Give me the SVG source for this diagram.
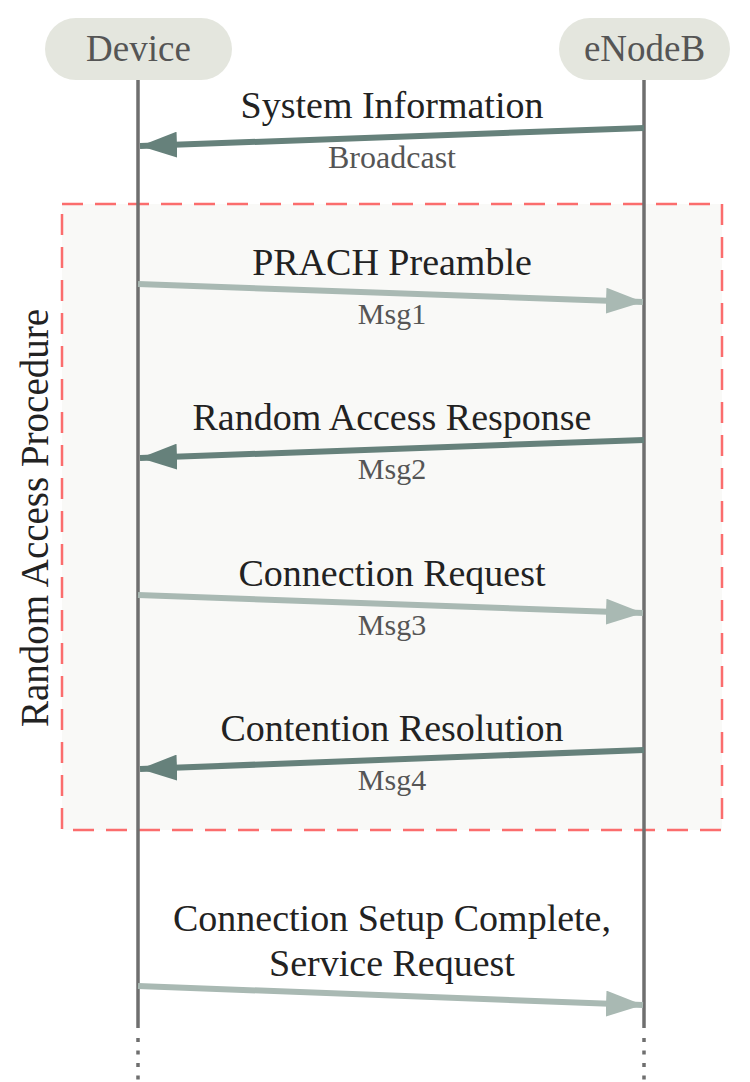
<svg xmlns="http://www.w3.org/2000/svg" width="750" height="1082" viewBox="0 0 750 1082">
<style>
.node{fill:#e4e6de}
.ntext{font-family:"Liberation Serif",serif;font-size:37px;fill:#555;text-anchor:middle}
.life{stroke:#6f6f6f;stroke-width:3.5;fill:none}
.dots{stroke:#6f6f6f;stroke-width:3.5;fill:none;stroke-dasharray:4 8.5}
.lbl{font-family:"Liberation Serif",serif;font-size:38px;fill:#222;text-anchor:middle}
.sub{font-family:"Liberation Serif",serif;font-size:30px;fill:#555;text-anchor:middle}
.dark{stroke:#66817b;stroke-width:6;fill:none;marker-end:url(#hd)}
.light{stroke:#a9b9b3;stroke-width:6;fill:none;marker-end:url(#hl)}
</style>
<defs>
<marker id="hd" markerUnits="userSpaceOnUse" viewBox="0 0 37 26" refX="37" refY="13" markerWidth="37" markerHeight="26" orient="auto"><path d="M0,0 L37,13 L0,26 z" fill="#66817b"/></marker>
<marker id="hl" markerUnits="userSpaceOnUse" viewBox="0 0 37 26" refX="37" refY="13" markerWidth="37" markerHeight="26" orient="auto"><path d="M0,0 L37,13 L0,26 z" fill="#a9b9b3"/></marker>
</defs>
<rect width="750" height="1082" fill="#fff"/>
<g id="group-rap">
<rect x="62" y="204" width="660" height="626" fill="#f9f9f7" stroke="#fb6d6d" stroke-width="2.5" stroke-dasharray="21 12"/>
<text class="lbl" transform="translate(48,518) rotate(-90)" style="font-size:39px">Random Access Procedure</text>
</g>
<g id="device">
<rect class="node" x="45" y="18" width="187" height="62" rx="31"/>
<text class="ntext" x="138.5" y="61">Device</text>
</g>
<g id="enodeb">
<rect class="node" x="559" y="18" width="171" height="62" rx="31"/>
<text class="ntext" x="644.5" y="61">eNodeB</text>
</g>
<g id="lifelines">
<line class="life" x1="138" y1="80" x2="138" y2="1028"/>
<line class="life" x1="644" y1="80" x2="644" y2="1028"/>
<line class="dots" x1="138" y1="1038" x2="138" y2="1082"/>
<line class="dots" x1="644" y1="1038" x2="644" y2="1082"/>
</g>
<g id="connectors">
<line class="dark" x1="644" y1="128" x2="140" y2="146"/>
<line class="light" x1="138" y1="284" x2="643" y2="302"/>
<line class="dark" x1="644" y1="440" x2="140" y2="458"/>
<line class="light" x1="138" y1="595" x2="643" y2="613"/>
<line class="dark" x1="644" y1="750" x2="140" y2="769"/>
<line class="light" x1="138" y1="986" x2="643" y2="1005"/>
</g>
<g id="labels">
<text class="lbl" x="392" y="118">System Information</text>
<text class="sub" x="392" y="168" style="font-size:32px">Broadcast</text>
<text class="lbl" x="392" y="275">PRACH Preamble</text>
<text class="sub" x="392" y="324">Msg1</text>
<text class="lbl" x="392" y="430">Random Access Response</text>
<text class="sub" x="392" y="479">Msg2</text>
<text class="lbl" x="392" y="586">Connection Request</text>
<text class="sub" x="392" y="635">Msg3</text>
<text class="lbl" x="392" y="741">Contention Resolution</text>
<text class="sub" x="392" y="790">Msg4</text>
<text class="lbl" x="392" y="931">Connection Setup Complete,</text>
<text class="lbl" x="392" y="976">Service Request</text>
</g>
</svg>
